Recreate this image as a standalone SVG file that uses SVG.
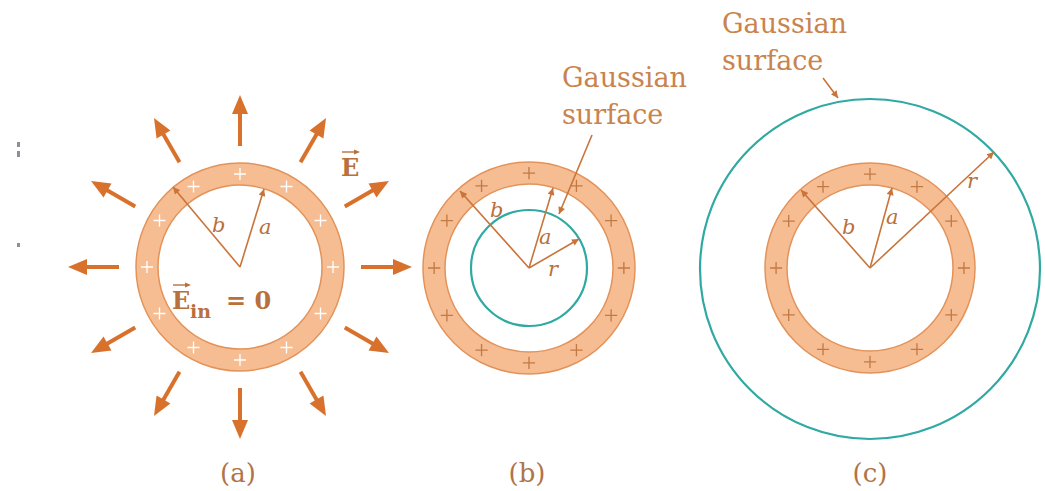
<svg xmlns="http://www.w3.org/2000/svg" width="1045" height="491" viewBox="0 0 1045 491">
<style>
.ringfill{fill:#f6bd93;stroke:#e3935a;stroke-width:1.5}
.inner{fill:#ffffff;stroke:#e3935a;stroke-width:1.5}
.teal{fill:none;stroke:#2fa9a2;stroke-width:2.2}
.ef{stroke:#d8712c;stroke-width:4;fill:none}
.efh{fill:#d8712c}
.rad{stroke:#c8743a;stroke-width:1.6;fill:none}
.pw{stroke:#ffffff;stroke-width:1.3;fill:none}
.po{stroke:#c27a45;stroke-width:1.3;fill:none}
.lbl{font-family:"DejaVu Serif","Liberation Serif",serif;fill:#c9834e}
.it{font-family:"DejaVu Serif","Liberation Serif",serif;font-style:italic;fill:#b8703c;font-size:21px}
.bold{font-family:"DejaVu Serif","Liberation Serif",serif;font-weight:bold;fill:#b8703c}
.cap{font-family:"DejaVu Serif","Liberation Serif",serif;fill:#b07448;font-size:26px;text-anchor:middle}
</style>
<defs>
<marker id="ah" viewBox="0 0 10 10" refX="10" refY="5" markerWidth="8" markerHeight="7" markerUnits="userSpaceOnUse" orient="auto">
<path d="M0,0 L10,5 L0,10 Z" fill="#c8743a"/>
</marker>
<g id="efa">
<line class="ef" x1="121" y1="0" x2="157" y2="0"/>
<polygon class="efh" points="172,0 153,-8 153,8"/>
</g>
<path id="plus" d="M-6,0 H6 M0,-6 V6"/>
<g id="pluses">
<use href="#plus" x="93" y="0"/><use href="#plus" x="-93" y="0"/>
<use href="#plus" x="0" y="93"/><use href="#plus" x="0" y="-93"/>
<use href="#plus" x="80.5" y="46.5"/><use href="#plus" x="-80.5" y="46.5"/>
<use href="#plus" x="80.5" y="-46.5"/><use href="#plus" x="-80.5" y="-46.5"/>
<use href="#plus" x="46.5" y="80.5"/><use href="#plus" x="-46.5" y="80.5"/>
<use href="#plus" x="46.5" y="-80.5"/><use href="#plus" x="-46.5" y="-80.5"/>
</g>
</defs>
<rect width="1045" height="491" fill="#ffffff"/>
<g id="artifacts" fill="#8a8f99">
<rect x="17" y="142" width="3" height="5"/><rect x="17" y="151" width="3" height="6"/>
<rect x="17" y="243" width="3" height="4"/>
</g>

<g id="panel-a">
<circle class="ringfill" cx="240" cy="267" r="104"/>
<circle class="inner" cx="240" cy="267" r="82"/>
<g transform="translate(240,267)" class="pw"><use href="#pluses"/></g>
<g id="efield" transform="translate(240,267)">
<use href="#efa" transform="rotate(0)"/><use href="#efa" transform="rotate(30)"/>
<use href="#efa" transform="rotate(60)"/><use href="#efa" transform="rotate(90)"/>
<use href="#efa" transform="rotate(120)"/><use href="#efa" transform="rotate(150)"/>
<use href="#efa" transform="rotate(180)"/><use href="#efa" transform="rotate(210)"/>
<use href="#efa" transform="rotate(240)"/><use href="#efa" transform="rotate(270)"/>
<use href="#efa" transform="rotate(300)"/><use href="#efa" transform="rotate(330)"/>
</g>
<text class="it" x="212" y="232">b</text>
<text class="it" x="259" y="234">a</text>
<text class="bold" x="341" y="176" font-size="24">E</text>
<line x1="342" y1="152" x2="356" y2="152" stroke="#b8703c" stroke-width="1.4"/>
<polygon points="360,152 354,149.5 354,154.5" fill="#b8703c"/>
<text class="bold" x="172" y="309" font-size="24">E</text>
<text class="bold" x="190" y="318" font-size="19">in</text>
<line x1="173" y1="285" x2="187" y2="285" stroke="#b8703c" stroke-width="1.4"/>
<polygon points="191,285 185,282.5 185,287.5" fill="#b8703c"/>
<text class="bold" x="226" y="309" font-size="24">= 0</text>
<text class="cap" x="238" y="482">(a)</text>
</g>

<g id="panel-b">
<circle class="ringfill" cx="529" cy="268" r="106"/>
<circle class="inner" cx="529" cy="268" r="84"/>
<g transform="translate(529,268)" class="po"><use href="#pluses" transform="scale(1.02)"/></g>
<circle class="teal" cx="529" cy="268" r="58"/>
<text class="it" x="490" y="217">b</text>
<text class="it" x="539" y="244">a</text>
<text class="it" x="548" y="276">r</text>
<text class="lbl" x="562" y="87" font-size="27">Gaussian</text>
<text class="lbl" x="562" y="124" font-size="27">surface</text>
<text class="cap" x="527" y="482">(b)</text>
</g>

<g id="panel-c">
<circle class="ringfill" cx="870" cy="268" r="105"/>
<circle class="inner" cx="870" cy="268" r="83"/>
<g transform="translate(870,268)" class="po"><use href="#pluses" transform="scale(1.01)"/></g>
<circle class="teal" cx="870" cy="269" r="170"/>
<text class="it" x="842" y="234">b</text>
<text class="it" x="886" y="224">a</text>
<text class="it" x="967" y="188">r</text>
<text class="lbl" x="722" y="33" font-size="27">Gaussian</text>
<text class="lbl" x="722" y="70" font-size="27">surface</text>
<text class="cap" x="870" y="482">(c)</text>
</g>

<g id="connectors" class="rad">
<line x1="240" y1="267" x2="173" y2="187" marker-end="url(#ah)"/>
<line x1="240" y1="267" x2="264" y2="189" marker-end="url(#ah)"/>
<line x1="529" y1="268" x2="460" y2="191" marker-end="url(#ah)"/>
<line x1="529" y1="268" x2="553" y2="188" marker-end="url(#ah)"/>
<line x1="529" y1="268" x2="579" y2="239" marker-end="url(#ah)"/>
<line x1="592" y1="135" x2="559" y2="214" marker-end="url(#ah)"/>
<line x1="870" y1="268" x2="801" y2="190" marker-end="url(#ah)"/>
<line x1="870" y1="268" x2="892" y2="188" marker-end="url(#ah)"/>
<line x1="870" y1="268" x2="994" y2="152" marker-end="url(#ah)"/>
<line x1="823" y1="78" x2="838" y2="98" marker-end="url(#ah)"/>
</g>
</svg>
